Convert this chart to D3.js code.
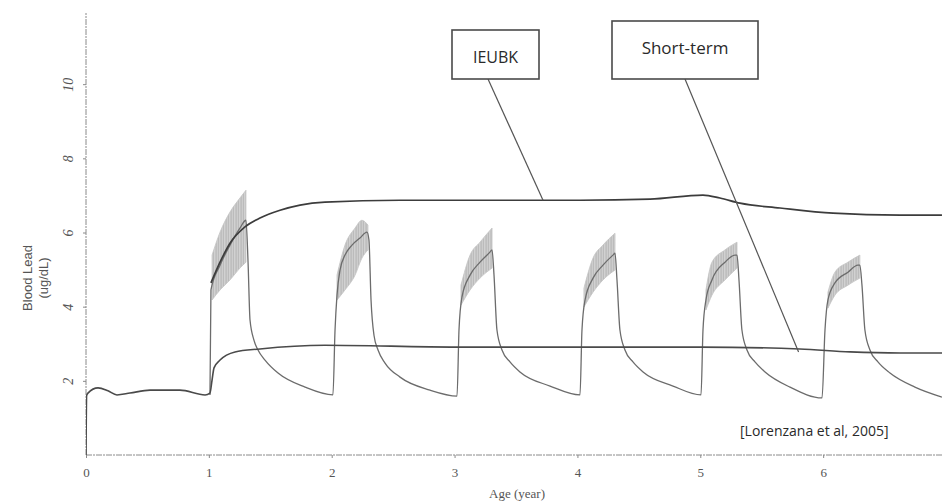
<!DOCTYPE html>
<html>
<head>
<meta charset="utf-8">
<script src="https://cdn.jsdelivr.net/npm/d3@7"></script>
<style>
  body { margin: 0; background: #fff; }
  svg { display: block; }
</style>
</head>
<body>
<svg id="chart"></svg>
<script>
// axis ticks
var xTicks = [0, 1, 2, 3, 4, 5, 6];
var yTicks = [2, 4, 6, 8, 10];

// IEUBK model curve [age, ug/dL]
var ieubk = [[1.017, 4.64], [1.091, 5.20], [1.172, 5.71], [1.294, 6.15], [1.416, 6.39], [1.579, 6.60],
  [1.742, 6.74], [1.945, 6.82], [2.556, 6.87], [3.020, 6.87], [4.021, 6.87], [4.591, 6.90],
  [5.022, 7.01], [5.160, 6.93], [5.323, 6.79], [5.649, 6.66], [6.080, 6.52], [6.625, 6.47], [6.967, 6.47]];

// long-term (annual average) curve
var longTerm = [[0, 0], [0.005, 1.60], [0.016, 1.67], [0.098, 1.81], [0.179, 1.73], [0.252, 1.62],
  [0.358, 1.67], [0.521, 1.75], [0.765, 1.75], [0.969, 1.62], [1.009, 1.67], [1.026, 2.02],
  [1.042, 2.35], [1.091, 2.56], [1.213, 2.78], [1.416, 2.86], [1.945, 2.96], [3.02, 2.91],
  [4.02, 2.91], [5.0, 2.91], [5.81, 2.86], [6.22, 2.78], [6.63, 2.75], [6.97, 2.75]];

// short-term (seasonal) curve
var shortTerm = [
  [1.009, 1.62], [1.017, 4.45], [1.091, 5.12], [1.172, 5.66], [1.253, 6.12], [1.302, 6.33], [1.319, 5.20],
  [1.335, 3.64], [1.367, 3.10], [1.400, 2.83], [1.457, 2.56], [1.563, 2.21], [1.783, 1.83], [2.010, 1.62],
  [2.027, 3.37], [2.043, 4.31], [2.068, 4.99], [2.108, 5.39], [2.165, 5.66], [2.230, 5.85], [2.287, 6.01],
  [2.303, 5.80], [2.320, 4.18], [2.344, 3.23], [2.377, 2.83], [2.434, 2.48], [2.556, 2.10], [2.800, 1.75], [3.020, 1.59],
  [3.036, 3.37], [3.060, 4.26], [3.126, 4.85], [3.207, 5.20], [3.288, 5.47], [3.305, 5.53], [3.321, 4.85],
  [3.345, 3.37], [3.386, 2.83], [3.451, 2.51], [3.532, 2.24], [3.777, 1.86], [4.021, 1.62],
  [4.037, 3.37], [4.062, 4.18], [4.127, 4.77], [4.208, 5.12], [4.289, 5.39], [4.306, 5.44], [4.322, 4.72],
  [4.346, 3.37], [4.387, 2.83], [4.452, 2.51], [4.534, 2.24], [4.778, 1.86], [5.006, 1.62],
  [5.022, 3.37], [5.046, 4.18], [5.095, 4.72], [5.201, 5.20], [5.282, 5.39], [5.299, 5.39], [5.315, 4.72],
  [5.339, 3.37], [5.380, 2.83], [5.445, 2.51], [5.527, 2.24], [5.730, 1.83], [5.991, 1.54],
  [6.015, 3.37], [6.039, 4.18], [6.096, 4.64], [6.202, 4.93], [6.283, 5.12], [6.299, 5.12], [6.316, 4.58],
  [6.340, 3.37], [6.381, 2.83], [6.446, 2.51], [6.544, 2.21], [6.747, 1.83], [6.967, 1.56]
];

// variability bands of the short-term curve [age, low, high]
var band1 = [[1.026, 4.18, 5.39], [1.091, 4.45, 6.01], [1.172, 4.72, 6.55], [1.253, 5.04, 6.93], [1.302, 5.20, 7.14]];
var band2 = [[2.043, 4.18, 4.85], [2.108, 4.45, 5.66], [2.190, 4.85, 6.12], [2.246, 5.31, 6.33], [2.295, 5.53, 6.20]];
var band3 = [[3.052, 4.04, 4.58], [3.126, 4.45, 5.39], [3.207, 4.77, 5.74], [3.305, 5.04, 6.12]];
var band4 = [[4.053, 3.99, 4.50], [4.127, 4.39, 5.31], [4.208, 4.72, 5.66], [4.306, 4.99, 5.98]];
var band5 = [[5.046, 3.91, 4.45], [5.095, 4.31, 5.20], [5.201, 4.72, 5.53], [5.299, 5.04, 5.74]];
var band6 = [[6.039, 3.96, 4.39], [6.096, 4.31, 4.93], [6.202, 4.58, 5.20], [6.299, 4.77, 5.39]];
var bands = [band1, band2, band3, band4, band5, band6];

// callout labels and the points they mark
var labelIeubk = "IEUBK", pointIeubk = [3.72, 6.87];
var labelShort = "Short-term", pointShort = [5.80, 2.78];
var citation = "[Lorenzana et al, 2005]";

var width = 942, height = 502;
var svg = d3.select("#chart").attr("width", width).attr("height", height);

var xscale = d3.scaleLinear().domain([0, 7]).range([86, 946]);
var yscale = d3.scaleLinear().domain([0, 12]).range([455, 10]);

svg.append("defs").append("clipPath").attr("id", "clip")
  .append("rect").attr("x", 86).attr("y", 0).attr("width", width - 86).attr("height", 456);

var pat = svg.select("defs").append("pattern")
  .attr("id", "hatch").attr("patternUnits", "userSpaceOnUse")
  .attr("width", 2.5).attr("height", 6);
pat.append("rect").attr("width", 2.5).attr("height", 6).attr("fill", "#d4d4d4");
pat.append("line").attr("x1", 1).attr("x2", 1).attr("y1", 0).attr("y2", 6)
  .attr("stroke", "#acacac").attr("stroke-width", 0.9);

// axes
var xaxis = svg.append("g").attr("transform", "translate(0,455)")
  .call(d3.axisBottom(xscale).tickValues(xTicks).tickSize(3).tickFormat(d3.format("d")));
xaxis.select(".domain").attr("stroke", "#8a8a8a").attr("stroke-dasharray", "6,1,2,1")
  .attr("d", "M86,0H942");
xaxis.selectAll(".tick line").attr("stroke", "#8a8a8a");
xaxis.selectAll(".tick text").attr("y", 13)
  .style("font-family", "'Liberation Serif', serif").style("font-size", "13px").style("fill", "#555");

var yaxis = svg.append("g").attr("transform", "translate(86,0)")
  .call(d3.axisLeft(yscale).tickValues(yTicks).tickSize(3));
yaxis.select(".domain").attr("stroke", "#8a8a8a").attr("stroke-dasharray", "6,1,2,1")
  .attr("d", "M0," + yscale(0) + "V13");
yaxis.selectAll(".tick line").attr("stroke", "#8a8a8a");
yaxis.selectAll(".tick text")
  .attr("x", null).attr("dy", null)
  .attr("text-anchor", "middle")
  .attr("transform", "translate(-13,0) rotate(-90)")
  .style("font-family", "'Liberation Serif', serif").style("font-size", "14px")
  .style("font-style", "italic").style("fill", "#555");

svg.append("text").attr("x", 517).attr("y", 498).attr("text-anchor", "middle")
  .style("font-family", "'Liberation Serif', serif").style("font-size", "13px").style("fill", "#555")
  .text("Age (year)");

var ylab = svg.append("g").attr("transform", "translate(36,278) rotate(-90)")
  .style("font-family", "'Liberation Sans', sans-serif").style("font-size", "13px").style("fill", "#555");
ylab.append("text").attr("text-anchor", "middle").attr("y", -4).text("Blood Lead");
ylab.append("text").attr("text-anchor", "middle").attr("y", 12).text("(ug/dL)");

// data
var plot = svg.append("g").attr("clip-path", "url(#clip)");

var area = d3.area()
  .x(function (d) { return xscale(d[0]); })
  .y0(function (d) { return yscale(d[1]); })
  .y1(function (d) { return yscale(d[2]); })
  .curve(d3.curveMonotoneX);

plot.selectAll("path.band").data(bands).enter().append("path")
  .attr("class", "band")
  .attr("d", area)
  .attr("fill", "url(#hatch)")
  .attr("stroke", "#c4c4c4").attr("stroke-width", 0.8);

var line = d3.line()
  .x(function (d) { return xscale(d[0]); })
  .y(function (d) { return yscale(d[1]); })
  .curve(d3.curveMonotoneX);

plot.append("path").datum(shortTerm).attr("d", line)
  .attr("fill", "none").attr("stroke", "#6c6c6c").attr("stroke-width", 1.3);
plot.append("path").datum(longTerm).attr("d", line)
  .attr("fill", "none").attr("stroke", "#4a4a4a").attr("stroke-width", 1.6);
plot.append("path").datum(ieubk).attr("d", line)
  .attr("fill", "none").attr("stroke", "#3c3c3c").attr("stroke-width", 1.7);

// callouts
function callout(label, pt, box, fontSize) {
  svg.append("line")
    .attr("x1", box.x + box.anchor).attr("y1", box.y + box.h)
    .attr("x2", xscale(pt[0])).attr("y2", yscale(pt[1]))
    .attr("stroke", "#555").attr("stroke-width", 1.2);
  svg.append("rect").attr("x", box.x).attr("y", box.y)
    .attr("width", box.w).attr("height", box.h)
    .attr("fill", "#fff").attr("stroke", "#4a4a4a").attr("stroke-width", 1.6);
  svg.append("text").attr("x", box.x + box.w / 2).attr("y", box.y + box.ty)
    .attr("text-anchor", "middle")
    .style("font-family", "'Open Sans', sans-serif").style("font-size", fontSize + "px")
    .style("fill", "#2a2a2a").text(label);
}
callout(labelIeubk, pointIeubk, { x: 452, y: 30, w: 87, h: 49, anchor: 36, ty: 33 }, 16);
callout(labelShort, pointShort, { x: 612, y: 21, w: 146, h: 58, anchor: 73, ty: 33 }, 17);

svg.append("text").attr("x", 740).attr("y", 436)
  .style("font-family", "'Open Sans', sans-serif").style("font-size", "14px").style("fill", "#2a2a2a")
  .text(citation);
</script>
</body>
</html>
